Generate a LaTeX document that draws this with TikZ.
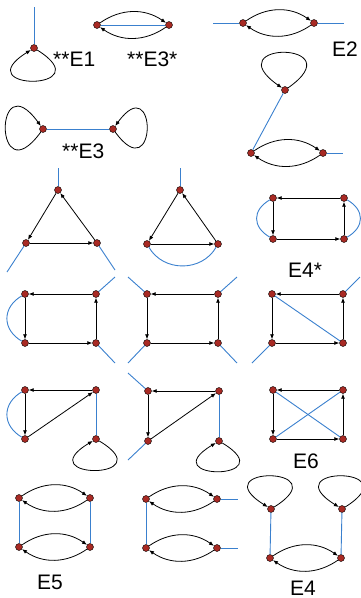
\documentclass[tikz,border=0pt]{standalone}
\usepackage{fontspec}
\setmainfont{Liberation Sans}
\usetikzlibrary{arrows.meta}
\definecolor{vred}{RGB}{168,42,36}
\definecolor{eblue}{RGB}{58,128,206}
\tikzset{
  v/.style={circle, draw=black, fill=vred, inner sep=0pt, minimum size=7pt, line width=0.4pt},
  arc/.style={draw=black, line width=0.8pt, -{Latex[length=5pt,width=4pt]}},
  bl/.style={draw=eblue, line width=0.9pt},
  lab/.style={anchor=base west, inner sep=0pt, font=\fontsize{21}{25}\selectfont}
}
\begin{document}
\begin{tikzpicture}[x=1pt, y=1pt]
    \useasboundingbox (0,0) rectangle (361,-598);

    % E1
    \node[v] (n1) at (34,-48) {};
    \coordinate (s1) at (34,-7);
    \draw[bl] (s1) -- (n1);
    \draw[arc] (n1) to[out=-32, in=-148, distance=78pt] (n1);
    \node[lab] (l1) at (53,-66) {**E1};

    % E3*
    \node[v] (p1) at (97,-25) {};
    \node[v] (p2) at (169,-25) {};
    \draw[bl] (p1) -- (p2);
    \draw[arc] (p1) to[bend left=35] (p2);
    \draw[arc] (p2) to[bend left=35] (p1);
    \node[lab] (l2) at (127,-66) {**E3*};

    % E2 oben
    \node[v] (q1) at (243,-23) {};
    \node[v] (q2) at (314,-23) {};
    \coordinate (q1s) at (213,-23);
    \coordinate (q2s) at (344,-23);
    \draw[bl] (q1s) -- (q1);
    \draw[bl] (q2) -- (q2s);
    \draw[arc] (q1) to[bend left=35] (q2);
    \draw[arc] (q2) to[bend left=35] (q1);
    \node[lab] (l3) at (332,-56) {E2};

    % E2 unten
    \node[v] (r0) at (285,-90) {};
    \node[v] (r1) at (251,-153) {};
    \node[v] (r2) at (323,-153) {};
    \coordinate (r2s) at (343,-153);
    \draw[arc] (r0) to[out=35, in=145, distance=82pt] (r0);
    \draw[bl] (r0) -- (r1);
    \draw[bl] (r2) -- (r2s);
    \draw[arc] (r1) to[bend left=35] (r2);
    \draw[arc] (r2) to[bend left=35] (r1);

    % E3
    \node[v] (t1) at (43,-129) {};
    \node[v] (t2) at (113,-129) {};
    \draw[bl] (t1) -- (t2);
    \draw[arc] (t1) to[out=-126, in=126, distance=80pt] (t1);
    \draw[arc] (t2) to[out=-54, in=54, distance=72pt] (t2);
    \node[lab] (l4) at (62,-158) {**E3};

    % Dreieck 1
    \node[v] (u0) at (58,-190) {};
    \node[v] (u1) at (26,-243) {};
    \node[v] (u2) at (97,-243) {};
    \coordinate (u0s) at (58,-168);
    \coordinate (u1s) at (7,-272);
    \coordinate (u2s) at (115,-270);
    \draw[bl] (u0s) -- (u0);
    \draw[bl] (u1) -- (u1s);
    \draw[bl] (u2) -- (u2s);
    \draw[arc] (u0) -- (u1);
    \draw[arc] (u1) -- (u2);
    \draw[arc] (u2) -- (u0);

    % Dreieck 2
    \node[v] (v0) at (180,-190) {};
    \node[v] (v1) at (147,-244) {};
    \node[v] (v2) at (218,-244) {};
    \coordinate (v0s) at (180,-168);
    \draw[bl] (v0s) -- (v0);
    \draw[bl] (v1) to[bend right=60, looseness=1.1] (v2);
    \draw[arc] (v0) -- (v1);
    \draw[arc] (v1) -- (v2);
    \draw[arc] (v2) -- (v0);

    % E4*
    \node[v] (w1) at (273,-198) {};
    \node[v] (w2) at (344,-198) {};
    \node[v] (w3) at (273,-239) {};
    \node[v] (w4) at (344,-239) {};
    \draw[bl] (w1) to[bend right=60, looseness=1.4] (w3);
    \draw[bl] (w2) to[bend left=60, looseness=1.4] (w4);
    \draw[arc] (w2) -- (w1);
    \draw[arc] (w1) -- (w3);
    \draw[arc] (w3) -- (w4);
    \draw[arc] (w4) -- (w2);
    \node[lab] (l5) at (288,-277) {E4*};

    % Rechteck 1
    \node[v] (a1) at (25,-294) {};
    \node[v] (a2) at (96,-294) {};
    \node[v] (a3) at (25,-343) {};
    \node[v] (a4) at (96,-343) {};
    \coordinate (a2s) at (115,-277);
    \coordinate (a4s) at (115,-363);
    \draw[bl] (a1) to[bend right=60, looseness=1.3] (a3);
    \draw[bl] (a2) -- (a2s);
    \draw[bl] (a4) -- (a4s);
    \draw[arc] (a2) -- (a1);
    \draw[arc] (a1) -- (a3);
    \draw[arc] (a3) -- (a4);
    \draw[arc] (a4) -- (a2);

    % Rechteck 2
    \node[v] (b1) at (147,-294) {};
    \node[v] (b2) at (218,-294) {};
    \node[v] (b3) at (147,-343) {};
    \node[v] (b4) at (218,-343) {};
    \coordinate (b1s) at (128,-277);
    \coordinate (b2s) at (237,-277);
    \coordinate (b3s) at (128,-363);
    \coordinate (b4s) at (237,-363);
    \draw[bl] (b1) -- (b1s);
    \draw[bl] (b2) -- (b2s);
    \draw[bl] (b3) -- (b3s);
    \draw[bl] (b4) -- (b4s);
    \draw[arc] (b2) -- (b1);
    \draw[arc] (b1) -- (b3);
    \draw[arc] (b3) -- (b4);
    \draw[arc] (b4) -- (b2);

    % Rechteck 3
    \node[v] (c1) at (272,-294) {};
    \node[v] (c2) at (343,-294) {};
    \node[v] (c3) at (272,-343) {};
    \node[v] (c4) at (343,-343) {};
    \coordinate (c2s) at (360,-277);
    \coordinate (c3s) at (252,-363);
    \draw[bl] (c1) -- (c4);
    \draw[bl] (c2) -- (c2s);
    \draw[bl] (c3) -- (c3s);
    \draw[arc] (c2) -- (c1);
    \draw[arc] (c1) -- (c3);
    \draw[arc] (c3) -- (c4);
    \draw[arc] (c4) -- (c2);

    % Dreieck mit Schleife 1
    \node[v] (d1) at (25,-390) {};
    \node[v] (d2) at (96,-390) {};
    \node[v] (d3) at (25,-439) {};
    \node[v] (d4) at (96,-439) {};
    \draw[bl] (d1) to[bend right=60, looseness=1.3] (d3);
    \draw[bl] (d2) -- (d4);
    \draw[arc] (d2) -- (d1);
    \draw[arc] (d1) -- (d3);
    \draw[arc] (d3) -- (d2);
    \draw[arc] (d4) to[out=-31, in=-149, distance=76pt] (d4);

    % Dreieck mit Schleife 2
    \node[v] (f1) at (148,-391) {};
    \node[v] (f2) at (219,-391) {};
    \node[v] (f3) at (148,-441) {};
    \node[v] (f4) at (219,-441) {};
    \coordinate (f1s) at (128,-373);
    \coordinate (f3s) at (128,-460);
    \draw[bl] (f1) -- (f1s);
    \draw[bl] (f3) -- (f3s);
    \draw[bl] (f2) -- (f4);
    \draw[arc] (f2) -- (f1);
    \draw[arc] (f1) -- (f3);
    \draw[arc] (f3) -- (f2);
    \draw[arc] (f4) to[out=-31, in=-149, distance=74pt] (f4);

    % E6
    \node[v] (g1) at (273,-390) {};
    \node[v] (g2) at (343,-390) {};
    \node[v] (g3) at (273,-439) {};
    \node[v] (g4) at (343,-439) {};
    \draw[bl] (g1) -- (g4);
    \draw[bl] (g3) -- (g2);
    \draw[arc] (g2) -- (g1);
    \draw[arc] (g1) -- (g3);
    \draw[arc] (g3) -- (g4);
    \draw[arc] (g4) -- (g2);
    \node[lab] (l6) at (293,-468) {E6};

    % E5
    \node[v] (h1) at (19,-498) {};
    \node[v] (h2) at (90,-498) {};
    \node[v] (h3) at (19,-547) {};
    \node[v] (h4) at (90,-547) {};
    \draw[bl] (h1) -- (h3);
    \draw[bl] (h2) -- (h4);
    \draw[arc] (h1) to[bend left=35] (h2);
    \draw[arc] (h2) to[bend left=35] (h1);
    \draw[arc] (h3) to[bend left=35] (h4);
    \draw[arc] (h4) to[bend left=35] (h3);
    \node[lab] (l7) at (37,-589) {E5};

    % zwei Paare
    \node[v] (k1) at (146,-499) {};
    \node[v] (k2) at (217,-499) {};
    \node[v] (k3) at (146,-548) {};
    \node[v] (k4) at (217,-548) {};
    \coordinate (k2s) at (238,-499);
    \coordinate (k4s) at (238,-548);
    \draw[bl] (k1) -- (k3);
    \draw[bl] (k2) -- (k2s);
    \draw[bl] (k4) -- (k4s);
    \draw[arc] (k1) to[bend left=35] (k2);
    \draw[arc] (k2) to[bend left=35] (k1);
    \draw[arc] (k3) to[bend left=35] (k4);
    \draw[arc] (k4) to[bend left=35] (k3);

    % E4
    \node[v] (m1) at (271,-509) {};
    \node[v] (m2) at (342,-509) {};
    \node[v] (m3) at (270,-558) {};
    \node[v] (m4) at (341,-558) {};
    \draw[arc] (m1) to[out=32, in=148, distance=78pt] (m1);
    \draw[arc] (m2) to[out=32, in=148, distance=78pt] (m2);
    \draw[bl] (m1) -- (m3);
    \draw[bl] (m2) -- (m4);
    \draw[arc] (m3) to[bend left=35] (m4);
    \draw[arc] (m4) to[bend left=35] (m3);
    \node[lab] (l8) at (290,-595) {E4};
\end{tikzpicture}
\end{document}
